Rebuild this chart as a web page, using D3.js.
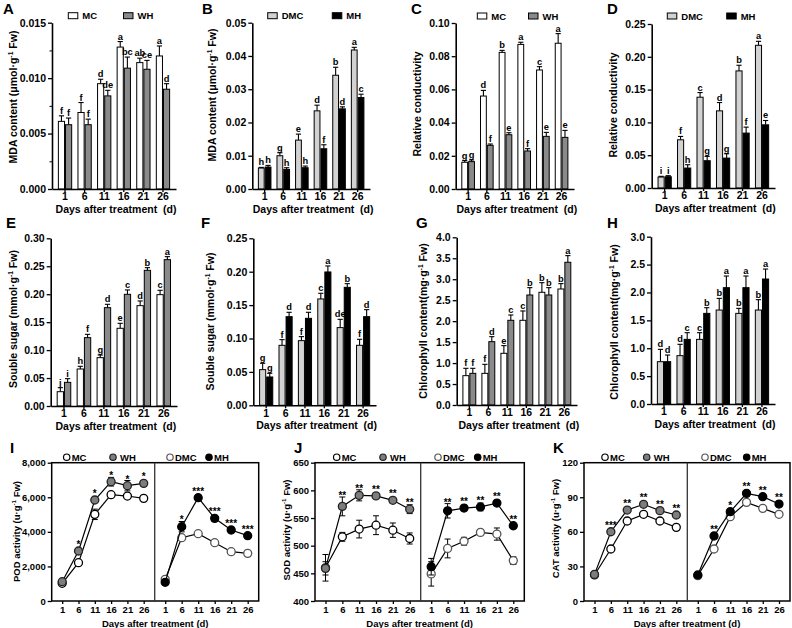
<!DOCTYPE html>
<html><head><meta charset="utf-8">
<script src="https://cdn.jsdelivr.net/npm/d3@7"></script>
<style>
body{margin:0;background:#fff}
text{font-family:"Liberation Sans",Arial,sans-serif;font-weight:bold;fill:#000}
</style>
</head><body>
<svg id="c" width="792" height="628"></svg>
<script>
const days = [1,6,11,16,21,26];

// Panel A: MDA (MC vs WH)
const A_MC = [0.0061,0.0069,0.0095,0.0128,0.0114,0.0120];
const A_MC_err = [0.0005,0.0009,0.0004,0.0005,0.0004,0.0009];
const A_MC_sig = ["f","f","d","a","ab","a"];
const A_WH = [0.0058,0.0058,0.0084,0.0109,0.0108,0.0090];
const A_WH_err = [0.0006,0.0005,0.0005,0.0010,0.0008,0.0005];
const A_WH_sig = ["f","f","de","bc","ce","d"];
// Panel B: MDA (DMC vs MH)
const B_DMC = [0.0063,0.0100,0.0147,0.0235,0.0342,0.0418];
const B_DMC_err = [0.0002,0.0009,0.0018,0.0017,0.0024,0.0008];
const B_DMC_sig = ["h","g","e","d","b","a"];
const B_MH = [0.0066,0.0059,0.0064,0.0121,0.0241,0.0275];
const B_MH_err = [0.0005,0.0005,0.0005,0.0012,0.0006,0.0010];
const B_MH_sig = ["h","h","h","f","d","c"];
// Panel C: Relative conductivity (MC vs WH)
const C_MC = [0.0161,0.0560,0.0823,0.0871,0.0717,0.0878];
const C_MC_err = [0.0010,0.0034,0.0012,0.0013,0.0020,0.0058];
const C_MC_sig = ["g","d","b","a","c","a"];
const C_WH = [0.0165,0.0263,0.0327,0.0229,0.0317,0.0311];
const C_WH_err = [0.0010,0.0008,0.0012,0.0014,0.0024,0.0042];
const C_WH_sig = ["g","f","e","f","e","e"];
// Panel D: Relative conductivity (DMC vs MH)
const D_DMC = [0.0167,0.0735,0.1384,0.1176,0.1785,0.2175];
const D_DMC_err = [0.0011,0.0051,0.0071,0.0127,0.0086,0.0061];
const D_DMC_sig = ["i","f","c","d","b","a"];
const D_MH = [0.0172,0.0304,0.0416,0.0456,0.0837,0.0963];
const D_MH_err = [0.0016,0.0051,0.0066,0.0066,0.0091,0.0066];
const D_MH_sig = ["i","h","g","g","f","e"];
// Panel E: Soluble sugar (MC vs WH)
const E_MC = [0.0256,0.0662,0.0865,0.1390,0.1795,0.1992];
const E_MC_err = [0.0072,0.0048,0.0047,0.0089,0.0084,0.0078];
const E_MC_sig = ["j","h","g","e","d","c"];
const E_WH = [0.0423,0.1223,0.1759,0.1998,0.2427,0.2618];
const E_WH_err = [0.0066,0.0059,0.0060,0.0078,0.0048,0.0054];
const E_WH_sig = ["i","f","d","c","b","a"];
// Panel F: Soluble sugar (DMC vs MH)
const F_DMC = [0.0534,0.0898,0.0968,0.1592,0.1163,0.0898];
const F_DMC_err = [0.0095,0.0085,0.0060,0.0085,0.0124,0.0090];
const F_DMC_sig = ["g","f","f","c","de","f"];
const F_MH = [0.0424,0.1327,0.1302,0.1996,0.1766,0.1327];
const F_MH_err = [0.0055,0.0065,0.0090,0.0090,0.0055,0.0105];
const F_MH_sig = ["g","d","d","a","b","d"];
// Panel G: Chlorophyll (MC vs WH)
const G_MC = [0.700,0.755,1.233,2.020,2.688,2.767];
const G_MC_err = [0.175,0.215,0.183,0.223,0.230,0.128];
const G_MC_sig = ["f","f","e","c","b","b"];
const G_WH = [0.755,1.511,2.020,2.624,2.624,3.404];
const G_WH_err = [0.120,0.119,0.127,0.175,0.175,0.159];
const G_WH_sig = ["f","d","c","b","b","a"];
// Panel H: Chlorophyll (DMC vs MH)
const H_DMC = [0.759,0.867,1.159,1.685,1.625,1.685];
const H_DMC_err = [0.221,0.203,0.120,0.209,0.090,0.186];
const H_DMC_sig = ["d","d","c","b","b","b"];
const H_MH = [0.759,1.159,1.625,2.086,2.086,2.241];
const H_MH_err = [0.119,0.120,0.102,0.209,0.209,0.179];
const H_MH_sig = ["d","c","b","a","a","a"];

// Panel I: POD activity
const I_MC = [1022,2217,5012,6149,6072,5937];
const I_MC_err = [80,120,300,100,100,120];
const I_WH = [1118,2892,5841,6901,6670,6805];
const I_WH_err = [60,120,120,250,300,100];
const I_WH_sig = ["","*","*","*","*","*"];
const I_DMC = [1253,3663,3893,3373,2853,2757];
const I_DMC_err = [120,150,80,150,80,60];
const I_MH = [1080,4299,5976,4781,4106,3778];
const I_MH_err = [60,300,150,150,60,60];
const I_MH_sig = ["","*","***","***","***","***"];
// Panel J: SOD activity
const J_MC = [460,516,530,537,528,513];
const J_MC_err = [24,8,16,17,13,10];
const J_WH = [459,571,591,590,582,566];
const J_WH_err = [12,17,10,3,5,8];
const J_WH_sig = ["","**","**","**","**","**"];
const J_DMC = [449,495,508,524,521,473];
const J_DMC_err = [22,17,7,5,11,7];
const J_MH = [462,563,568,570,577,536];
const J_MH_err = [15,13,5,7,3,4];
const J_MH_sig = ["","**","**","**","**","**"];
// Panel K: CAT activity
const K_MC = [22.6,45.1,69.4,75.2,69.4,63.9];
const K_MC_err = [1.5,1.5,1.5,1.5,1.5,1.5];
const K_WH = [23.1,60.1,78.9,83.9,78.4,74.6];
const K_WH_err = [1.5,2,1.5,1.5,1.5,1.5];
const K_WH_sig = ["","***","**","**","**","**"];
const K_DMC = [22.0,45.1,73.2,85.6,80.4,75.2];
const K_DMC_err = [1.5,2,1.5,1.5,1.5,1.5];
const K_MH = [22.6,56.4,77.5,93.4,90.5,84.1];
const K_MH_err = [1.5,1.5,1.5,1.5,1.5,1.5];
const K_MH_sig = ["","**","*","**","**","**"];

const COL = {MC:"#ffffff", WH:"#8a8a8a", DMC:"#d2d2d2", MH:"#000000"};
const svg = d3.select("#c");
const FS = 10.5;

function yTitle(x, yc, main, sup, tail, fs){
  const t = svg.append("text").attr("transform",`translate(${x},${yc}) rotate(-90)`)
    .attr("text-anchor","middle").attr("font-size",fs);
  t.append("tspan").text(main);
  if(sup){
    t.append("tspan").attr("dy",-4).attr("font-size",fs*0.65).text(sup);
    t.append("tspan").attr("dy",4).text(tail);
  }
}
function panelLetter(x, y, s){
  svg.append("text").attr("x",x).attr("y",y).attr("font-size",15).text(s);
}

function barPanel(o){
  const g = svg.append("g");
  const x = d3.scaleBand().domain(days).range([o.x0,o.x1]).paddingInner(0.27).paddingOuter(0.3);
  const x2 = d3.scaleBand().domain([0,1]).range([0,x.bandwidth()]);
  const y = d3.scaleLinear().domain([0,o.ymax]).range([o.yb,o.yt]);
  o.series.forEach((s,si)=>{
    const gg = g.append("g");
    const cx = i => x(days[i]) + x2(si) + x2.bandwidth()/2;
    gg.selectAll("line.e").data(s.values).join("line")
      .attr("x1",(d,i)=>cx(i)).attr("x2",(d,i)=>cx(i))
      .attr("y1",d=>y(d)).attr("y2",(d,i)=>y(d+s.err[i]))
      .attr("stroke","#000").attr("stroke-width",1.1);
    gg.selectAll("line.c").data(s.values).join("line")
      .attr("x1",(d,i)=>cx(i)-2.6).attr("x2",(d,i)=>cx(i)+2.6)
      .attr("y1",(d,i)=>y(d+s.err[i])).attr("y2",(d,i)=>y(d+s.err[i]))
      .attr("stroke","#000").attr("stroke-width",1.1);
    gg.selectAll("rect").data(s.values).join("rect")
      .attr("x",(d,i)=>x(days[i])+x2(si)+0.5).attr("width",x2.bandwidth()-1)
      .attr("y",d=>y(d)).attr("height",d=>y(0)-y(d))
      .attr("fill",s.color).attr("stroke","#000").attr("stroke-width",1);
    gg.selectAll("text").data(s.sig).join("text")
      .attr("x",(d,i)=>cx(i)).attr("y",(d,i)=>y(s.values[i]+s.err[i])-2)
      .attr("text-anchor","middle").attr("font-size",9.3).text(d=>d);
  });
  const ya = g.append("g").attr("transform",`translate(${o.x0},0)`)
    .call(d3.axisLeft(y).tickValues(o.ticks).tickFormat(d3.format(o.fmt)).tickSize(4).tickSizeOuter(0).tickPadding(2));
  if(o.minor){
    g.append("g").attr("transform",`translate(${o.x0},0)`)
      .call(d3.axisLeft(y).tickValues(o.minor).tickFormat("").tickSize(2.5).tickSizeOuter(0))
      .select(".domain").remove();
  }
  const xa = g.append("g").attr("transform",`translate(0,${o.yb})`)
    .call(d3.axisBottom(x).tickSize(3).tickSizeOuter(0).tickPadding(1));
  [ya,xa].forEach(a=>{
    a.select(".domain").attr("stroke-width",1.6);
    a.selectAll(".tick line").attr("stroke-width",1.3);
    a.selectAll("text").attr("font-size",FS).attr("font-family",null);
  });
  svg.append("text").attr("x",(o.x0+o.x1)/2+2).attr("y",o.yb+24)
    .attr("text-anchor","middle").attr("font-size",FS).style("white-space","pre")
    .text("Days after treatment  (d)");
  if(o.legend){
    o.legend.forEach((l,i)=>{
      svg.append("rect").attr("x",l.x).attr("y",o.legY-3).attr("width",9.5).attr("height",6)
        .attr("fill",o.series[i].color).attr("stroke","#000").attr("stroke-width",1);
      svg.append("text").attr("x",l.x+14).attr("y",o.legY+3.5).attr("font-size",9.5).text(l.name);
    });
  }
  yTitle(o.tx, o.ty, o.title[0], o.title[1], o.title[2], FS);
  panelLetter(o.lx, o.ly, o.letter);
}

const mdaT = ["MDA content (μmol·g","-1"," Fw)"];
const rcT = ["Relative conductivity"];
const ssT = ["Souble sugar (mmol·g","-1"," Fw)"];
const chT = ["Chlorophyll content(mg·g","-1"," Fw)"];
const fmtTicks = (n,step)=>d3.range(0,n+1).map(i=>+(i*step).toFixed(4));

barPanel({x0:52,x1:176,yt:22.7,yb:189,ymax:0.015,ticks:fmtTicks(3,0.005),minor:[0.0025,0.0075,0.0125],fmt:".3f",
  series:[{values:A_MC,err:A_MC_err,sig:A_MC_sig,color:COL.MC},{values:A_WH,err:A_WH_err,sig:A_WH_sig,color:COL.WH}],
  legend:[{x:68.3,name:"MC"},{x:123.5,name:"WH"}],legY:15.7,title:mdaT,tx:16.5,ty:97,letter:"A",lx:3,ly:14});
barPanel({x0:252.3,x1:370,yt:22.7,yb:189,ymax:0.05,ticks:fmtTicks(5,0.01),fmt:".2f",
  series:[{values:B_DMC,err:B_DMC_err,sig:B_DMC_sig,color:COL.DMC},{values:B_MH,err:B_MH_err,sig:B_MH_sig,color:COL.MH}],
  legend:[{x:267.7,name:"DMC"},{x:332.3,name:"MH"}],legY:15.7,title:mdaT,tx:215.5,ty:95,letter:"B",lx:202,ly:14});
barPanel({x0:455.7,x1:574,yt:23,yb:189,ymax:0.10,ticks:fmtTicks(5,0.02),fmt:".2f",
  series:[{values:C_MC,err:C_MC_err,sig:C_MC_sig,color:COL.MC},{values:C_WH,err:C_WH_err,sig:C_WH_sig,color:COL.WH}],
  legend:[{x:477.3,name:"MC"},{x:528.5,name:"WH"}],legY:16,title:rcT,tx:421,ty:104,letter:"C",lx:411,ly:14});
barPanel({x0:651.7,x1:775,yt:24,yb:188,ymax:0.25,ticks:fmtTicks(5,0.05),fmt:".2f",
  series:[{values:D_DMC,err:D_DMC_err,sig:D_DMC_sig,color:COL.DMC},{values:D_MH,err:D_MH_err,sig:D_MH_sig,color:COL.MH}],
  legend:[{x:667.3,name:"DMC"},{x:726.7,name:"MH"}],legY:16,title:rcT,tx:617,ty:105,letter:"D",lx:607,ly:14});
barPanel({x0:50.7,x1:177,yt:238.3,yb:406,ymax:0.30,ticks:fmtTicks(6,0.05),fmt:".2f",
  series:[{values:E_MC,err:E_MC_err,sig:E_MC_sig,color:COL.MC},{values:E_WH,err:E_WH_err,sig:E_WH_sig,color:COL.WH}],
  title:ssT,tx:17,ty:319,letter:"E",lx:6,ly:228});
barPanel({x0:253.3,x1:376,yt:238.3,yb:405.3,ymax:0.25,ticks:fmtTicks(5,0.05),fmt:".2f",
  series:[{values:F_DMC,err:F_DMC_err,sig:F_DMC_sig,color:COL.DMC},{values:F_MH,err:F_MH_err,sig:F_MH_sig,color:COL.MH}],
  title:ssT,tx:213.5,ty:321.5,letter:"F",lx:201,ly:228});
barPanel({x0:456.7,x1:577,yt:237.3,yb:405,ymax:4.0,ticks:fmtTicks(8,0.5),fmt:".1f",
  series:[{values:G_MC,err:G_MC_err,sig:G_MC_sig,color:COL.MC},{values:G_WH,err:G_WH_err,sig:G_WH_sig,color:COL.WH}],
  title:chT,tx:427,ty:321,letter:"G",lx:416,ly:228});
barPanel({x0:651,x1:775,yt:236.7,yb:404,ymax:3.0,ticks:fmtTicks(6,0.5),fmt:".1f",
  series:[{values:H_DMC,err:H_DMC_err,sig:H_DMC_sig,color:COL.DMC},{values:H_MH,err:H_MH_err,sig:H_MH_sig,color:COL.MH}],
  title:chT,tx:618,ty:322,letter:"H",lx:607,ly:228});

function linePanel(o){
  const g = svg.append("g");
  const y = d3.scaleLinear().domain(o.ydom).range([o.yb,o.yt]);
  g.append("g").attr("transform",`translate(${o.x0},0)`)
    .call(d3.axisLeft(y).tickValues(o.ticks).tickSize(4).tickSizeOuter(0).tickPadding(2))
    .call(a=>{a.select(".domain").remove();a.selectAll(".tick line").attr("stroke-width",1.3);
      a.selectAll("text").attr("font-size",9.5).attr("font-family",null);});
  const halves = [
    {L:o.x0,R:o.xm,series:[
      {v:o.MC,e:o.MC_err,fill:"#fff",stroke:"#000"},
      {v:o.WH,e:o.WH_err,fill:"#7d7d7d",stroke:"#222",sig:o.WH_sig}]},
    {L:o.xm,R:o.x1,series:[
      {v:o.DMC,e:o.DMC_err,fill:"#fff",stroke:"#555"},
      {v:o.MH,e:o.MH_err,fill:"#000",stroke:"#000",sig:o.MH_sig}]}
  ];
  halves.forEach(h=>{
    const x = d3.scaleLinear().domain([1,26]).range([h.L+10.5,h.R-11]);
    g.append("g").attr("transform",`translate(0,${o.yb})`)
      .call(d3.axisBottom(x).tickValues(days).tickSize(3).tickSizeOuter(0).tickPadding(2))
      .call(a=>{a.select(".domain").remove();a.selectAll(".tick line").attr("stroke-width",1.3);
        a.selectAll("text").attr("font-size",9.5).attr("font-family",null);});
    h.series.forEach(s=>{
      const gg = g.append("g");
      gg.append("path").datum(s.v).attr("fill","none").attr("stroke","#000").attr("stroke-width",1.2)
        .attr("d",d3.line().x((d,i)=>x(days[i])).y(d=>y(d)));
      gg.selectAll("line.v").data(s.v).join("line")
        .attr("x1",(d,i)=>x(days[i])).attr("x2",(d,i)=>x(days[i]))
        .attr("y1",(d,i)=>y(d-s.e[i])).attr("y2",(d,i)=>y(d+s.e[i]))
        .attr("stroke","#000").attr("stroke-width",1);
      [-1,1].forEach(sg=>{
        gg.selectAll("line.c"+(sg+1)).data(s.v).join("line")
          .attr("x1",(d,i)=>x(days[i])-3).attr("x2",(d,i)=>x(days[i])+3)
          .attr("y1",(d,i)=>y(d+sg*s.e[i])).attr("y2",(d,i)=>y(d+sg*s.e[i]))
          .attr("stroke","#000").attr("stroke-width",1);
      });
      gg.selectAll("circle").data(s.v).join("circle")
        .attr("cx",(d,i)=>x(days[i])).attr("cy",d=>y(d)).attr("r",4)
        .attr("fill",s.fill).attr("stroke",s.stroke).attr("stroke-width",1.3);
      if(s.sig){
        gg.selectAll("text").data(s.sig).join("text")
          .attr("x",(d,i)=>x(days[i])).attr("y",(d,i)=>Math.min(y(s.v[i]+s.e[i]),y(s.v[i])-5)+2)
          .attr("text-anchor","middle").attr("font-size",10).text(d=>d);
      }
    });
  });
  g.append("rect").attr("x",o.x0).attr("y",o.yt).attr("width",o.x1-o.x0).attr("height",o.yb-o.yt)
    .attr("fill","none").attr("stroke","#000").attr("stroke-width",1.5);
  g.append("line").attr("x1",o.xm).attr("x2",o.xm).attr("y1",o.yt).attr("y2",o.yb)
    .attr("stroke","#333").attr("stroke-width",1.3);
  const legS = [{n:"MC",fill:"#fff",stroke:"#000"},{n:"WH",fill:"#7d7d7d",stroke:"#222"},
                {n:"DMC",fill:"#fff",stroke:"#555"},{n:"MH",fill:"#000",stroke:"#000"}];
  legS.forEach((l,i)=>{
    const lx = o.legX[i];
    svg.append("circle").attr("cx",lx).attr("cy",o.yt-5.5).attr("r",3.2)
      .attr("fill",l.fill).attr("stroke",l.stroke).attr("stroke-width",1.2);
    svg.append("text").attr("x",lx+ (l.n==="WH"?7:5)).attr("y",o.yt-2).attr("font-size",9.5).text(l.n);
  });
  svg.append("text").attr("x",(o.x0+o.x1)/2).attr("y",o.yb+25.5).attr("text-anchor","middle")
    .attr("font-size",9.5).text("Days after treatment (d)");
  yTitle(o.tx,o.ty,o.title,"-1"," Fw)",9.5);
  panelLetter(o.lx,o.ly,o.letter);
}

linePanel({x0:51.7,x1:258.7,xm:154.7,yt:462.7,yb:601,ydom:[0,8000],ticks:[0,2000,4000,6000,8000],
  MC:I_MC,MC_err:I_MC_err,WH:I_WH,WH_err:I_WH_err,WH_sig:I_WH_sig,
  DMC:I_DMC,DMC_err:I_DMC_err,MH:I_MH,MH_err:I_MH_err,MH_sig:I_MH_sig,
  legX:[66.7,113,170,209],title:"POD activity (u·g",tx:19.5,ty:531.5,letter:"I",lx:10,ly:453});
linePanel({x0:315,x1:524.3,xm:420.7,yt:462.7,yb:601,ydom:[400,650],ticks:[400,450,500,550,600,650],
  MC:J_MC,MC_err:J_MC_err,WH:J_WH,WH_err:J_WH_err,WH_sig:J_WH_sig,
  DMC:J_DMC,DMC_err:J_DMC_err,MH:J_MH,MH_err:J_MH_err,MH_sig:J_MH_sig,
  legX:[336.7,383,438,477.7],title:"SOD activity (u·g",tx:290,ty:530,letter:"J",lx:294,ly:453});
linePanel({x0:584,x1:790,xm:687.3,yt:462.7,yb:601,ydom:[0,120],ticks:[0,30,60,90,120],
  MC:K_MC,MC_err:K_MC_err,WH:K_WH,WH_err:K_WH_err,WH_sig:K_WH_sig,
  DMC:K_DMC,DMC_err:K_DMC_err,MH:K_MH,MH_err:K_MH_err,MH_sig:K_MH_sig,
  legX:[605,646.7,705,746.7],title:"CAT activity (u·g",tx:558.5,ty:528.5,letter:"K",lx:553,ly:453});
</script>
</body></html>
